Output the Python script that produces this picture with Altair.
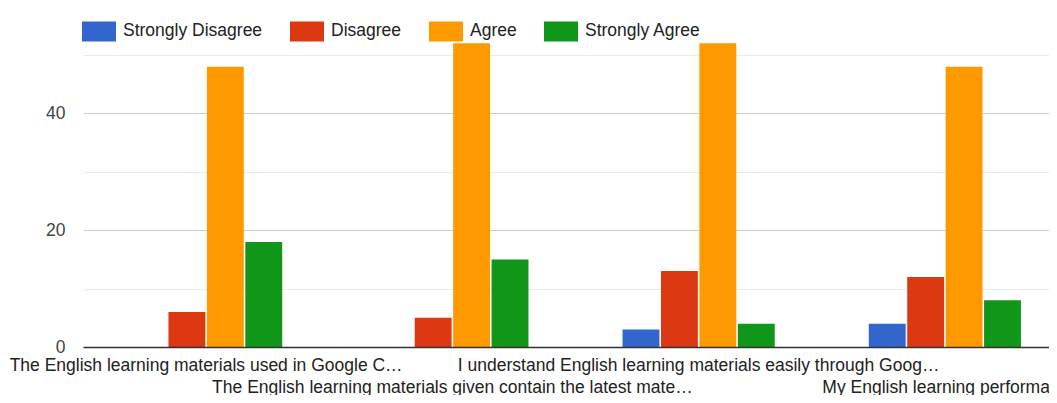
import json
import altair as alt
import pandas as pd

questions = [
    "The English learning materials used in Google C…",
    "The English learning materials given contain the latest mate…",
    "I understand English learning materials easily through Goog…",
    "My English learning performa…",
]
responses = ["Strongly Disagree", "Disagree", "Agree", "Strongly Agree"]
colors = ["#3366cc", "#dc3912", "#ff9900", "#109618"]
strongly_disagree = [0, 0, 3, 4]
disagree = [6, 5, 13, 12]
agree = [48, 52, 52, 48]
strongly_agree = [18, 15, 4, 8]
grid_values = [0, 10, 20, 30, 40, 50]

FONT = "Liberation Sans"
FS = 17.5

rows = []
series = [strongly_disagree, disagree, agree, strongly_agree]
for i, q in enumerate(questions):
    for r, vals in zip(responses, series):
        rows.append({"question": q, "response": r, "count": vals[i]})
df = pd.DataFrame(rows)

second_line = [questions[1], questions[3]]
label_expr = (
    "indexof(" + json.dumps(second_line, ensure_ascii=False)
    + ", datum.value) >= 0 ? ['', datum.label] : datum.label"
)

chart = alt.Chart(df).mark_bar().encode(
    x=alt.X(
        "question:N",
        sort=questions,
        scale=alt.Scale(paddingInner=0.382, paddingOuter=0.191),
        axis=alt.Axis(
            title=None, labelAngle=0, ticks=False, labelLimit=0,
            labelOverlap=False, labelExpr=label_expr, labelFont=FONT,
            labelFontSize=FS, labelColor="#222222", labelPadding=9,
            labelLineHeight=22, domainColor="#333333", domainWidth=1.5,
            zindex=1, grid=False,
        ),
    ),
    xOffset=alt.XOffset(
        "response:N", sort=responses,
        scale=alt.Scale(paddingInner=0.04, paddingOuter=0),
    ),
    y=alt.Y(
        "count:Q",
        scale=alt.Scale(domain=[0, 50], nice=False),
        axis=alt.Axis(
            title=None, values=grid_values,
            labelExpr="datum.value % 20 == 0 ? datum.label : ''",
            domain=False, ticks=False,
            gridColor={"condition": {"test": "datum.value % 20 == 0", "value": "#cccccc"}, "value": "#ebebeb"},
            labelFont=FONT, labelFontSize=FS, labelPadding=18,
            labelColor="#444444",
        ),
    ),
    color=alt.Color(
        "response:N", sort=responses,
        scale=alt.Scale(domain=responses, range=colors),
        legend=alt.Legend(
            title=None, orient="none", direction="horizontal",
            legendX=-1, legendY=-41, symbolType="M-1,-0.59H1V0.59H-1Z",
            symbolSize=1156, symbolStrokeWidth=0, symbolOpacity=1,
            labelFont=FONT, labelFontSize=FS, labelColor="#222222",
            labelOffset=7, columnPadding=27,
        ),
    ),
).properties(
    width=985, height=292,
    autosize=alt.AutoSizeParams(type="none"),
    padding={"left": 75, "top": 47, "right": -19, "bottom": 48},
).configure_view(stroke=None)

chart.save("out.html", embed_options={"renderer": "svg", "actions": False})
